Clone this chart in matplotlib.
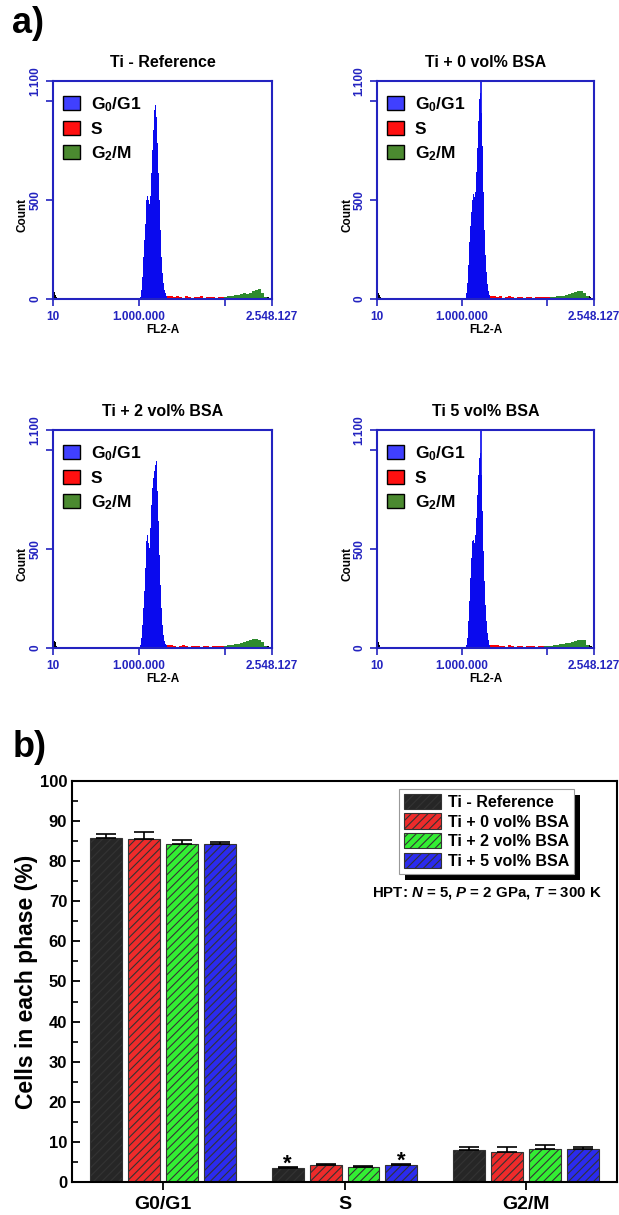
import numpy as np
import matplotlib
matplotlib.use("Agg")
import matplotlib.pyplot as plt
from matplotlib.patches import Patch, Rectangle

plt.rcParams["font.family"] = ["Liberation Sans", "DejaVu Sans"]
plt.rcParams["mathtext.fontset"] = "custom"
plt.rcParams["mathtext.rm"] = "Liberation Sans"
plt.rcParams["mathtext.it"] = "Liberation Sans:italic"
plt.rcParams["mathtext.bf"] = "Liberation Sans:bold"
plt.rcParams["mathtext.bfit"] = "Liberation Sans:bold:italic"
plt.rcParams["hatch.linewidth"] = 0.8

# ---- panel a): cell cycle histograms (FL2-A channel vs count) ----
hist_titles = ["Ti - Reference", "Ti + 0 vol% BSA", "Ti + 2 vol% BSA", "Ti 5 vol% BSA"]
fl2_max = 2548127
bin_w = 11700      # fine bins (G0/G1 peak, debris, tail)
bin_w_s = 35100    # coarse bins (S and G2/M)

g1_start = [1012300, 1045100, 1012300, 1045100]
peak_line = [None, 1217700, None, 1217700]

debris = [
    [42, 34, 22, 12, 6, 2],
    [48, 30, 18, 9, 4, 2],
    [85, 35, 28, 12, 5, 2],
    [58, 28, 14, 7, 3],
]
g1_counts = [
    [12, 45, 113, 213, 297, 381, 499, 520, 499, 480, 521, 634, 751, 852, 953, 978,
     919, 785, 634, 499, 348, 213, 129, 79, 45, 29, 15],
    [30, 80, 170, 290, 370, 440, 500, 530, 515, 540, 640, 760, 900, 1010, 1040, 940,
     770, 540, 350, 220, 135, 75, 42, 18],
    [17, 50, 118, 202, 286, 403, 538, 571, 529, 504, 605, 723, 807, 857, 891, 924,
     941, 790, 639, 471, 319, 202, 118, 67, 34, 20, 13],
    [17, 50, 134, 235, 353, 454, 538, 546, 529, 571, 655, 773, 874, 958, 983, 874,
     689, 487, 336, 218, 134, 76, 42, 17],
]
s_counts = [
    [15, 13, 12, 14, 11, 6, 13, 12, 5, 12, 11, 13, 6, 12, 11, 12, 5, 11, 12],
    [16, 14, 12, 13, 6, 12, 13, 11, 5, 12, 12, 6, 11, 12, 5, 11, 12, 10, 11, 12],
    [14, 15, 12, 6, 12, 13, 11, 5, 12, 11, 12, 6, 12, 11, 5, 12, 11, 12, 11],
    [15, 13, 14, 11, 12, 6, 13, 12, 5, 12, 11, 6, 12, 11, 12, 5, 11, 12],
]
g2_counts = [
    [12, 14, 16, 20, 22, 25, 28, 27, 32, 38, 45, 49, 30, 12],
    [10, 11, 13, 15, 17, 20, 25, 30, 36, 40, 38, 30, 14],
    [11, 13, 15, 18, 22, 25, 28, 33, 38, 44, 47, 40, 28, 12],
    [10, 11, 12, 13, 15, 18, 20, 24, 27, 30, 35, 40, 42, 38, 16],
]
tail_counts = [
    [12, 9, 6, 3, 2],
    [15, 10, 6, 3],
    [10, 8, 6, 3, 2],
    [15, 12, 8, 4, 2],
]
phase_labels = [r"G$_\mathbf{0}$/G1", "S", r"G$_\mathbf{2}$/M"]

# ---- panel b): cells in each phase ----
categories = ["G0/G1", "S", "G2/M"]
series = ["Ti - Reference", "Ti + 0 vol% BSA", "Ti + 2 vol% BSA", "Ti + 5 vol% BSA"]
values = [
    [85.7, 3.5, 7.9],
    [85.5, 4.2, 7.4],
    [84.2, 3.8, 8.3],
    [84.3, 4.2, 8.1],
]
errors = [
    [1.0, 0.3, 0.7],
    [1.9, 0.3, 1.2],
    [1.1, 0.1, 0.9],
    [0.6, 0.2, 0.5],
]
signif = [
    [False, True, False],
    [False, False, False],
    [False, False, False],
    [False, True, False],
]

hist_blue = "#0a0aee"
axis_blue = "#2323c0"
bar_colors = ["#262626", "#ee2b2b", "#33ee33", "#2b2bee"]

fig = plt.figure(figsize=(6.19, 12.15), dpi=100)

hist_pos = [
    [0.0856, 0.7539, 0.3538, 0.1794],
    [0.6090, 0.7539, 0.3506, 0.1794],
    [0.0856, 0.4667, 0.3538, 0.1794],
    [0.6090, 0.4667, 0.3506, 0.1794],
]

for i in range(4):
    ax = fig.add_axes(hist_pos[i])
    e = 10 + bin_w * np.arange(len(debris[i]) + 1)
    ax.stairs(debris[i], e, fill=True, color="black")
    e = g1_start[i] + bin_w * np.arange(len(g1_counts[i]) + 1)
    ax.stairs(g1_counts[i], e, fill=True, color=hist_blue)
    e = e[-1] + bin_w_s * np.arange(len(s_counts[i]) + 1)
    ax.stairs(s_counts[i], e, fill=True, color="#ff0000")
    e = e[-1] + bin_w_s * np.arange(len(g2_counts[i]) + 1)
    ax.stairs(g2_counts[i], e, fill=True, color="#2e8b2e")
    e = e[-1] + bin_w * np.arange(len(tail_counts[i]) + 1)
    ax.stairs(tail_counts[i], e, fill=True, color="black")
    if peak_line[i] is not None:
        ax.axvline(peak_line[i], color=hist_blue, lw=1.2)

    ax.set_xlim(10, fl2_max)
    ax.set_ylim(0, 1100)
    ax.set_xticks([10, 1000000, 2000000, fl2_max])
    ax.set_xticklabels(["10", "1.000.000", "", "2.548.127"])
    ax.set_yticks([0, 500, 1000, 1100])
    ax.set_yticklabels(["0", "500", "", "1.100"], rotation=90, va="center")
    ax.tick_params(colors=axis_blue, labelcolor=axis_blue, direction="out",
                   length=5, width=1.2, labelsize=8.5)
    for lab in ax.get_xticklabels() + ax.get_yticklabels():
        lab.set_fontweight("bold")
    for sp in ax.spines.values():
        sp.set_color(axis_blue)
        sp.set_linewidth(1.5)
    ax.set_title(hist_titles[i], fontsize=11.5, fontweight="bold", pad=10)
    ax.set_xlabel("FL2-A", fontsize=8.5, fontweight="bold", labelpad=1)
    ax.set_ylabel("Count", fontsize=8.5, fontweight="bold", labelpad=2)
    ax.yaxis.set_label_coords(-0.11, 0.385)

    handles = [Patch(facecolor=c, edgecolor="black", lw=1.0)
               for c in ["#4040ff", "#ff1010", "#4b8a30"]]
    ax.legend(handles, phase_labels, loc="upper left", bbox_to_anchor=(0.045, 0.935),
              frameon=False, prop={"size": 12.5, "weight": "bold"}, handlelength=1.0,
              handleheight=0.85, handletextpad=0.6, labelspacing=0.42,
              borderpad=0, borderaxespad=0)

fig.text(0.02, 0.995, "a)", fontsize=26, fontweight="bold", va="top")
fig.text(0.02, 0.399, "b)", fontsize=26, fontweight="bold", va="top")

# ---- bar chart ----
ax = fig.add_axes([0.1163, 0.0272, 0.8805, 0.330])
ax.patch.set_visible(False)
x = np.arange(1, len(categories) + 1)
pitch = 0.209
width = 0.176
offsets = (np.arange(len(series)) - 1.5) * pitch
for k in range(len(series)):
    xs = x + offsets[k]
    ax.bar(xs, values[k], width, color=bar_colors[k], edgecolor="#333333",
           lw=0.8, hatch="////", label=series[k], zorder=2)
    ax.errorbar(xs, values[k], yerr=[np.zeros(len(categories)), errors[k]],
                fmt="none", ecolor="black", elinewidth=1.2, capsize=7,
                capthick=1.2, zorder=3)
    for j in range(len(categories)):
        if signif[k][j]:
            ax.text(xs[j], values[k][j] + errors[k][j] - 1.9, "*", ha="center",
                    va="bottom", fontsize=16, fontweight="bold")

ax.set_xlim(0.5, 3.5)
ax.set_ylim(0, 100)
ax.set_xticks(x)
ax.set_xticklabels(categories)
ax.set_yticks(np.arange(0, 101, 10))
ax.set_yticks(np.arange(5, 100, 10), minor=True)
ax.tick_params(axis="y", which="major", direction="in", length=6, width=1.3,
               labelsize=12)
ax.tick_params(axis="y", which="minor", direction="in", length=4, width=1.2)
ax.tick_params(axis="x", direction="out", length=6, width=1.3, labelsize=14, pad=4)
for lab in ax.get_xticklabels() + ax.get_yticklabels():
    lab.set_fontweight("bold")
for sp in ax.spines.values():
    sp.set_linewidth(1.5)
ax.set_ylabel("Cells in each phase (%)", fontsize=16.5, fontweight="bold", labelpad=1)

leg = ax.legend(loc="upper right", bbox_to_anchor=(0.921, 0.98),
                prop={"size": 11.5, "weight": "bold"}, handlelength=2.3,
                handleheight=1.1, handletextpad=0.45, labelspacing=0.22,
                borderpad=0.3, borderaxespad=0, fancybox=False, framealpha=1,
                edgecolor="#999999")
leg.get_frame().set_linewidth(0.8)
leg.set_zorder(6)

ax.text(0.761, 0.72, r"HPT: $\mathbfit{N}$ = 5, $\mathbfit{P}$ = 2 GPa, $\mathbfit{T}$ = 300 K",
        transform=ax.transAxes, ha="center", va="center", fontsize=10.8,
        fontweight="bold")

# legend drop shadow
fig.canvas.draw()
bb = leg.get_window_extent()
shadow = Rectangle((bb.x0 + 6, bb.y0 - 6), bb.width, bb.height, transform=None,
                   facecolor="black", edgecolor="none", zorder=5.5, clip_on=False)
ax.add_artist(shadow)

fig.savefig("out.png", dpi=100)
